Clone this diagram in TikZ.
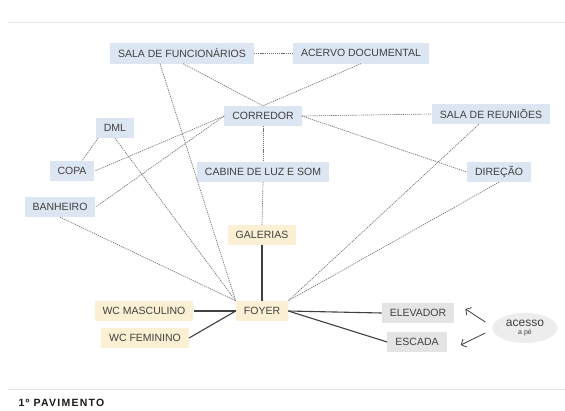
\documentclass[tikz,border=0pt]{standalone}
\usepackage{fontspec}
\setmainfont{Liberation Sans}
\usetikzlibrary{positioning,shapes.geometric,arrows.meta}
\definecolor{azul}{HTML}{DCE6F2}
\definecolor{creme}{HTML}{FBF0D3}
\definecolor{cinza}{HTML}{E4E4E4}
\definecolor{nuvem}{HTML}{EDEDED}
\definecolor{texto}{HTML}{404040}
\definecolor{traco}{HTML}{707070}
\definecolor{regua}{HTML}{E4E4E4}

\begin{document}
\begin{tikzpicture}[
    x=1pt, y=-1pt,
    every node/.style={font=\fontsize{10.5}{12}\selectfont, text=texto},
    espaco/.style={minimum height=20pt, inner xsep=8pt, inner ysep=0pt},
    ambiente/.style={espaco, fill=azul},
    publico/.style={espaco, fill=creme},
    vertical/.style={espaco, fill=cinza},
    ligacao/.style={traco, line width=0.65pt, dash pattern=on 1.2pt off 0.9pt},
    fluxo/.style={black!75, line width=1.1pt},
    seta/.style={texto, line width=0.8pt, -{Straight Barb[length=4pt,width=9pt]}}
]
\useasboundingbox (0,0) rectangle (565,410);

% reguas
\draw[regua, line width=1pt] (8,22) -- (565,22);
\draw[regua, line width=1pt] (8,389) -- (565,389);

% ambientes de apoio
\node[ambiente, minimum height=21pt] (func) at (182,53) {SALA DE FUNCIONÁRIOS};
\node[ambiente, minimum height=21pt] (acervo) at (361,53) {ACERVO DOCUMENTAL};
\node[ambiente] (corredor) at (263,116) {CORREDOR};
\node[ambiente] (reunioes) at (491,114) {SALA DE REUNIÕES};
\node[ambiente] (dml) at (115,128) {DML};
\node[ambiente] (copa) at (72,171) {COPA};
\node[ambiente] (banheiro) at (60,207) {BANHEIRO};
\node[ambiente] (cabine) at (263,172) {CABINE DE LUZ E SOM};
\node[ambiente] (direcao) at (499,172) {DIREÇÃO};

% area publica
\node[publico] (galerias) at (262,235) {GALERIAS};
\node[publico] (foyer) at (262,311) {FOYER};
\node[publico] (wcmasc) at (144,311) {WC MASCULINO};
\node[publico] (wcfem) at (145,338) {WC FEMININO};

% circulacao vertical
\node[vertical] (elevador) at (418,313) {ELEVADOR};
\node[vertical] (escada) at (417,342) {ESCADA};
\node[ellipse, fill=nuvem, minimum width=65pt, minimum height=30pt, inner sep=0pt,
      align=center, font=\fontsize{7}{8}\selectfont] (acesso) at (525,328)
      {{\fontsize{12}{12}\selectfont acesso}\\a pé};

% ligacoes indiretas
\draw[ligacao] (func.east) -- (acervo.west);
\draw[ligacao] ([xshift=1pt]func.south) -- (corredor.north);
\draw[ligacao] (acervo.south) -- (corredor.north);
\draw[ligacao] ([xshift=-22pt]func.south) -- (foyer.north west);
\draw[ligacao] (corredor.east) -- (reunioes.west);
\draw[ligacao] (corredor.east) -- (direcao.west);
\draw[ligacao] (corredor.south) -- (cabine.north);
\draw[ligacao] (cabine.south) -- (galerias.north);
\draw[ligacao] (corredor.west) -- (copa.east);
\draw[ligacao] (corredor.west) -- (banheiro.east);
\draw[ligacao] ([xshift=-17pt]dml.south) -- ([xshift=10pt]copa.north);
\draw[ligacao] (dml.south) -- (foyer.north west);
\draw[ligacao] (banheiro.south) -- (foyer.north west);
\draw[ligacao] ([xshift=-12pt]reunioes.south) -- (foyer.north east);
\draw[ligacao] (direcao.south) -- (foyer.north east);

% ligacoes diretas
\draw[fluxo] (galerias.south) -- (foyer.north);
\draw[fluxo] (wcmasc.east) -- (foyer.west);
\draw[fluxo] (wcfem.east) -- (foyer.west);
\draw[fluxo] (foyer.east) -- (elevador.west);
\draw[fluxo] (foyer.east) -- (escada.west);

% acesso
\draw[seta] ([shift={(-7,-6)}]acesso.west) -- ([shift={(11,-4)}]elevador.east);
\draw[seta] ([shift={(-7,5)}]acesso.west) -- ([shift={(14,3)}]escada.east);

% titulo
\node[anchor=west, text=black!90, font=\fontsize{10.5}{12}\selectfont\bfseries\addfontfeature{LetterSpace=12}]
      (titulo) at (15,403) {1º PAVIMENTO};

\end{tikzpicture}
\end{document}
